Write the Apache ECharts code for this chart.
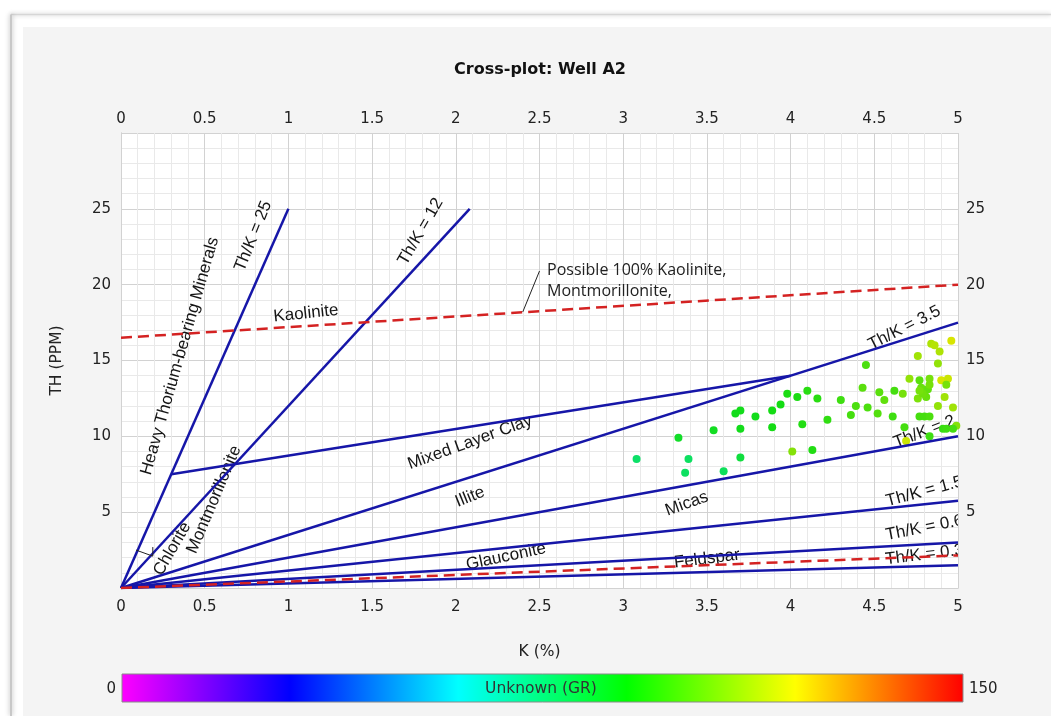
<!DOCTYPE html>
<html>
<head>
<meta charset="utf-8">
<title>Cross-plot: Well A2</title>
<script src="https://cdn.jsdelivr.net/npm/echarts@6/dist/echarts.min.js"></script>
<style>
  html, body { margin: 0; padding: 0; background: #ffffff; }
  #chart { width: 1051px; height: 716px; }
</style>
</head>
<body>
<div id="chart"></div>
<script>
// ---- Well A2 spectral gamma-ray samples: potassium (%), thorium (ppm), total GR (API) ----
const potassium = [
  3.08, 3.33, 3.39, 3.37, 3.54, 3.60, 3.67, 3.70, 3.70, 3.70,
  3.79, 3.89, 3.89, 3.94, 3.98, 4.01, 4.04, 4.07, 4.10, 4.13,
  4.16, 4.22, 4.30, 4.36, 4.39, 4.45, 4.43, 4.46, 4.52, 4.53,
  4.56, 4.61, 4.62, 4.67, 4.68, 4.69, 4.71, 4.76, 4.77, 4.76,
  4.77, 4.78, 4.80, 4.82, 4.83, 4.81, 4.83, 4.84, 4.86, 4.89,
  4.88, 4.90, 4.94, 4.93, 4.92, 4.88, 4.96, 4.97, 4.99, 4.80,
  4.83, 4.83, 4.91, 4.93, 4.97, 4.79, 4.77
];
const thorium = [
  8.5, 9.9, 8.5, 7.6, 10.4, 7.7, 11.5, 11.7, 10.5, 8.6,
  11.3, 11.7, 10.6, 12.1, 12.8, 9.0, 12.6, 10.8, 13.0, 9.1,
  12.5, 11.1, 12.4, 11.4, 12.0, 14.7, 13.2, 11.9, 11.5, 12.9,
  12.4, 11.3, 13.0, 12.8, 10.6, 9.7, 13.8, 15.3, 13.7, 12.5,
  11.3, 13.2, 12.9, 13.1, 13.4, 12.6, 13.8, 16.1, 16.0, 15.6,
  14.8, 13.7, 13.8, 13.4, 12.6, 12.0, 16.3, 11.9, 10.7, 11.3,
  11.3, 10.0, 10.5, 10.5, 10.5, 12.8, 13.0
];
const gammaRay = [
  78, 87, 79, 79, 88, 80, 89, 89, 89, 84,
  89, 90, 90, 90, 91, 106, 91, 92, 93, 92,
  93, 94, 96, 97, 98, 98, 100, 98, 99, 100,
  101, 96, 97, 104, 97, 116, 108, 110, 100, 105,
  97, 102, 103, 101, 104, 102, 104, 112, 113, 112,
  108, 118, 116, 104, 110, 108, 118, 110, 106, 97,
  98, 96, 95, 96, 97, 103, 104
];

// ---- Axis ticks ----
const kTickStep = 0.5, kMax = 5;
const thTickStep = 5, thMax = 30;

// ---- Th/K ratio lines from the origin: [K, Th] end points ----
const ratioEndK  = [1.0, 2.083, 5, 5, 5, 5, 5];
const ratioEndTh = [25, 25, 17.5, 10, 5.75, 3.0, 1.5];

// ---- Other zone boundaries as [K, Th] point lists ----
const mixedLayerBoundary = [[0.3, 7.5], [4.0, 14.0]];
const kaoliniteLimit     = [[0, 16.5], [5, 20.0]];
const feldsparLimit      = [[0, 0], [5, 2.15]];
const chloriteTick       = [[0.09, 2.5], [0.19, 2.1], [0.19, 2.7]];
const noteLeader         = [[2.40, 18.2], [2.50, 20.9]];

// ---- Zone / ratio labels: text, K, Th, angle (deg) ----
const zoneLabels = [
  ['Th/K = 25', 0.79, 23.2, 68],
  ['Th/K = 12', 1.79, 23.5, 60],
  ['Heavy Thorium-bearing Minerals', 0.352, 15.3, 74],
  ['Kaolinite', 1.105, 18.1, 6],
  ['Th/K = 3.5', 4.68, 17.15, 27],
  ['Mixed Layer Clay', 2.085, 9.6, 20],
  ['Illite', 2.085, 6.0, 22],
  ['Micas', 3.38, 5.56, 20],
  ['Th/K = 2', 4.80, 10.3, 21],
  ['Th/K = 1.5', 4.80, 6.36, 15],
  ['Th/K = 0.6', 4.80, 3.97, 11],
  ['Glauconite', 2.30, 2.07, 12],
  ['Feldspar', 3.50, 1.92, 7],
  ['Th/K = 0.3', 4.80, 2.19, 7],
  ['Montmorillonite', 0.556, 5.83, 67],
  ['Chlorite', 0.306, 2.58, 60]
];
const noteText = ['Possible 100% Kaolinite,', 'Montmorillonite,'];
const noteAnchor = [2.545, 21.6];

// ---- GR colour scale ----
const grMin = 0, grMax = 150;
const grLabel = 'Unknown (GR)';
const rainbow = ['#ff00ff', '#0000ff', '#00ffff', '#00ff00', '#ffff00', '#ff0000'];
const dotRainbow = ['#e600e6', '#0000e6', '#00e6e6', '#14dc14', '#e6e600', '#e60000'];

const AXIS_FONT = '"DejaVu Sans", Verdana, sans-serif';
const NOTE_FONT = '"Liberation Sans", Arial, sans-serif';
const BLUE = '#1616a8';
const RED = '#d42222';

const chart = echarts.init(document.getElementById('chart'), null, { renderer: 'canvas' });

const G = { left: 121, top: 133, right: 1051 - 958, bottom: 716 - 588 };

function lineSeries(points, color, width, dashed, z) {
  return {
    type: 'line',
    data: points,
    showSymbol: false,
    symbol: 'none',
    silent: true,
    animation: false,
    clip: true,
    z: z,
    lineStyle: { color: color, width: width, type: dashed ? [11, 6] : 'solid' }
  };
}

const series = [];

// zone labels, clipped to the plot area
series.push({
  type: 'custom',
  clip: true,
  silent: true,
  animation: false,
  z: 2,
  data: zoneLabels.map(function (a) { return [a[1], a[2]]; }),
  encode: { x: 0, y: 1 },
  renderItem: function (params, api) {
    const a = zoneLabels[params.dataIndex];
    const p = api.coord([api.value(0), api.value(1)]);
    return {
      type: 'text',
      x: p[0], y: p[1],
      rotation: a[3] * Math.PI / 180,
      style: {
        text: a[0], x: 0, y: 0,
        align: 'center', verticalAlign: 'middle',
        fontSize: 17, fontFamily: NOTE_FONT, fill: '#161616'
      }
    };
  }
});

// two-line note next to the kaolinite limit
series.push({
  type: 'custom',
  clip: true,
  silent: true,
  animation: false,
  z: 2,
  data: [noteAnchor],
  encode: { x: 0, y: 1 },
  renderItem: function (params, api) {
    const p = api.coord([api.value(0), api.value(1)]);
    return {
      type: 'text',
      x: p[0], y: p[1],
      style: {
        text: noteText.join('\n'), x: 0, y: 0,
        align: 'left', verticalAlign: 'top', lineHeight: 21,
        fontSize: 16, fontFamily: '"Open Sans", "Noto Sans", sans-serif', fill: '#222'
      }
    };
  }
});

ratioEndK.forEach(function (k, i) {
  series.push(lineSeries([[0, 0], [k, ratioEndTh[i]]], BLUE, 2.5, false, 4));
});
series.push(lineSeries(mixedLayerBoundary, BLUE, 2.5, false, 4));
series.push(lineSeries(chloriteTick, '#222', 1, false, 4));
series.push(lineSeries(noteLeader, '#222', 1, false, 4));
series.push(lineSeries(kaoliniteLimit, RED, 2.5, true, 5));
series.push(lineSeries(feldsparLimit, RED, 2.5, true, 5));

const scatterIndex = series.length;
series.push({
  type: 'scatter',
  symbolSize: 8,
  z: 3,
  animation: false,
  data: potassium.map(function (k, i) { return [k, thorium[i], gammaRay[i]]; }),
  itemStyle: { opacity: 1 }
});

const axisLabelStyle = { fontSize: 15, color: '#222', fontFamily: AXIS_FONT };

const option = {
  backgroundColor: '#f4f4f4',
  animation: false,
  grid: {
    left: G.left, top: G.top, right: G.right, bottom: G.bottom,
    show: true, backgroundColor: '#ffffff', borderWidth: 0
  },
  xAxis: [
    {
      type: 'value', position: 'bottom', min: 0, max: kMax, interval: kTickStep,
      name: 'K (%)', nameLocation: 'middle', nameGap: 56,
      nameTextStyle: { fontSize: 15.5, color: '#222', fontFamily: AXIS_FONT },
      axisLine: { show: true, lineStyle: { color: '#d2d2d2', width: 1 } },
      axisTick: { show: false },
      axisLabel: Object.assign({ margin: 12 }, axisLabelStyle),
      splitLine: { show: true, lineStyle: { color: '#d2d2d2', width: 1 } },
      minorTick: { show: false, splitNumber: 5 },
      minorSplitLine: { show: true, lineStyle: { color: '#e9e9e9', width: 1 } }
    },
    {
      type: 'value', position: 'top', min: 0, max: kMax, interval: kTickStep,
      axisLine: { show: true, lineStyle: { color: '#d2d2d2', width: 1 } },
      axisTick: { show: false },
      axisLabel: Object.assign({ margin: 6 }, axisLabelStyle),
      splitLine: { show: false }
    }
  ],
  yAxis: [
    {
      type: 'value', position: 'left', min: 0, max: thMax, interval: thTickStep,
      name: 'TH (PPM)', nameLocation: 'middle', nameGap: 56, nameRotate: 90,
      nameTextStyle: { fontSize: 15.5, color: '#222', fontFamily: AXIS_FONT },
      axisLine: { show: true, lineStyle: { color: '#d2d2d2', width: 1 } },
      axisTick: { show: false },
      axisLabel: Object.assign({
        margin: 10,
        formatter: function (v) { return (v === 0 || v === thMax) ? '' : String(v); }
      }, axisLabelStyle),
      splitLine: { show: true, lineStyle: { color: '#d2d2d2', width: 1 } },
      minorTick: { show: false, splitNumber: 5 },
      minorSplitLine: { show: true, lineStyle: { color: '#e9e9e9', width: 1 } }
    },
    {
      type: 'value', position: 'right', min: 0, max: thMax, interval: thTickStep,
      axisLine: { show: true, lineStyle: { color: '#d2d2d2', width: 1 } },
      axisTick: { show: false },
      axisLabel: Object.assign({
        margin: 8,
        formatter: function (v) { return (v === 0 || v === thMax) ? '' : String(v); }
      }, axisLabelStyle),
      splitLine: { show: false }
    }
  ],
  visualMap: {
    show: false, type: 'continuous', seriesIndex: scatterIndex, dimension: 2,
    min: grMin, max: grMax, inRange: { color: dotRainbow }
  },
  graphic: [
    // white frame around the panel
    { type: 'rect', shape: { x: 0, y: 0, width: 1051, height: 27 }, style: { fill: '#ffffff' }, silent: true },
    { type: 'rect', shape: { x: 0, y: 0, width: 23, height: 716 }, style: { fill: '#ffffff' }, silent: true },
    { type: 'line', shape: { x1: 11, y1: 14.5, x2: 1051, y2: 14.5 }, style: { stroke: '#d6d6d6', lineWidth: 1.5, shadowBlur: 4, shadowColor: 'rgba(0,0,0,0.25)' }, silent: true },
    { type: 'line', shape: { x1: 11, y1: 14.5, x2: 11, y2: 716 }, style: { stroke: '#c8c8c8', lineWidth: 2, shadowBlur: 5, shadowColor: 'rgba(0,0,0,0.35)' }, silent: true },
    // title
    { type: 'text', x: 540, y: 70, style: { text: 'Cross-plot: Well A2', align: 'center', verticalAlign: 'middle', fontSize: 16, fontWeight: 'bold', fontFamily: AXIS_FONT, fill: '#111' }, silent: true },
    // GR colour bar
    {
      type: 'rect', shape: { x: 122, y: 674, width: 841, height: 28 },
      style: {
        fill: new echarts.graphic.LinearGradient(0, 0, 1, 0, rainbow.map(function (c, i) {
          return { offset: i / (rainbow.length - 1), color: c };
        })),
        stroke: '#8a8a8a', lineWidth: 1
      },
      silent: true
    },
    { type: 'text', x: 116, y: 689, style: { text: String(grMin), align: 'right', verticalAlign: 'middle', fontSize: 15, fontFamily: AXIS_FONT, fill: '#222' }, silent: true },
    { type: 'text', x: 969, y: 689, style: { text: String(grMax), align: 'left', verticalAlign: 'middle', fontSize: 15, fontFamily: AXIS_FONT, fill: '#222' }, silent: true },
    { type: 'text', x: 541, y: 689, style: { text: grLabel, align: 'center', verticalAlign: 'middle', fontSize: 15.5, fontFamily: AXIS_FONT, fill: '#333' }, silent: true }
  ],
  series: series
};

chart.setOption(option);
</script>
</body>
</html>
